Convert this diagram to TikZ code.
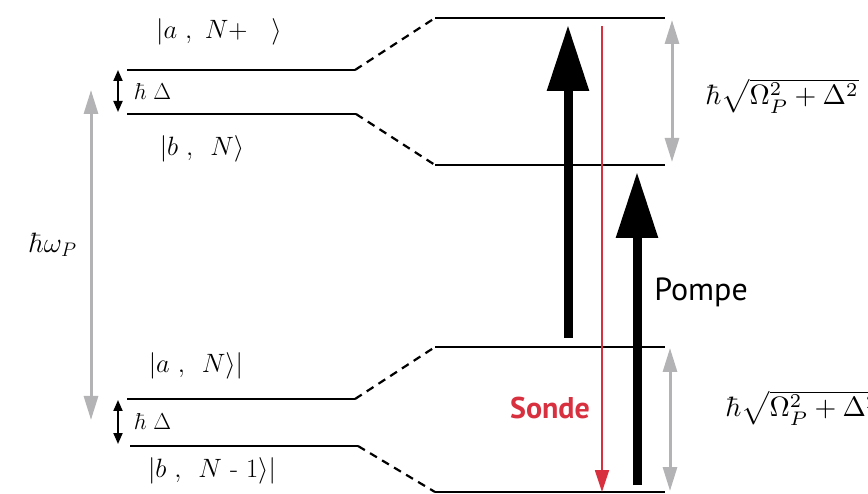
\RequirePackage{fix-cm}
\documentclass[tikz,border=0pt]{standalone}
\usepackage{graphicx}
\usepackage{fontspec}
\newfontfamily\ptsans{PT Sans}
\usetikzlibrary{arrows.meta}
\definecolor{sondered}{HTML}{D8303F}
\definecolor{arrgray}{HTML}{B3B3B5}
\newcommand{\omegalabel}{\scalebox{2.8}{\fontsize{10}{12}\selectfont$\hbar\sqrt{\Omega_P^2+\Delta^2}$}}
\tikzset{
  level/.style={line width=2.4pt, black},
  link/.style={line width=2.2pt, black, dash pattern=on 8pt off 6pt},
  pump/.style={line width=9pt, -{Triangle[width=40pt,length=66pt]}},
  probe/.style={line width=1.8pt, sondered, -{Triangle[width=14pt,length=22pt]}},
  gap/.style={line width=3pt, arrgray, {Triangle[width=14pt,length=24pt]}-{Triangle[width=14pt,length=24pt]}},
  small/.style={line width=2pt, {Triangle[width=9pt,length=11pt]}-{Triangle[width=9pt,length=11pt]}},
  lab/.style={inner sep=0pt, font=\fontsize{26.5}{30}\selectfont},
  slab/.style={inner sep=0pt, font=\fontsize{23}{27}\selectfont},
  olab/.style={inner sep=0pt, font=\fontsize{28}{32}\selectfont},
  omlab/.style={inner sep=0pt},
}
\begin{document}
\begin{tikzpicture}[x=1pt,y=-1pt]
\useasboundingbox (0,0) rectangle (868,494);
% left levels
\coordinate (l1a) at (127,70);  \coordinate (l1b) at (355,70);
\coordinate (l2a) at (127,114); \coordinate (l2b) at (356,114);
\coordinate (l3a) at (127,399); \coordinate (l3b) at (355,399);
\coordinate (l4a) at (130,446); \coordinate (l4b) at (358,446);
% right levels
\coordinate (r1a) at (435,18);  \coordinate (r1b) at (665,18);
\coordinate (r2a) at (435,165); \coordinate (r2b) at (665,165);
\coordinate (r3a) at (435,347); \coordinate (r3b) at (665,347);
\coordinate (r4a) at (435,492); \coordinate (r4b) at (665,492);
\foreach \n in {l1,l2,l3,l4,r1,r2,r3,r4} \draw[level] (\n a) -- (\n b);
\draw[link] (l1b) -- (r1a);
\draw[link] (l2b) -- (r2a);
\draw[link] (l3b) -- (r3a);
\draw[link] (l4b) -- (r4a);
% labels left
\node[lab] (ka) at (219,32) {$|a\ ,\ N+\ \ \ \rangle$};
\node[lab] (kb) at (202,149) {$|b\ ,\ \,N\rangle$};
\node[lab] (kc) at (196,366) {$|a\ ,\ \,N\rangle|$};
\node[lab] (kd) at (212,471) {$|b\ ,\ \,N\ \mbox{-}\ 1\rangle|$};
% small delta arrows
\coordinate (d1t) at (118,70); \coordinate (d1b) at (118,112);
\coordinate (d2t) at (118,400); \coordinate (d2b) at (118,444);
\draw[small] (d1t) -- (d1b);
\draw[small] (d2t) -- (d2b);
\node[slab] (dl1) at (153,92) {$\hbar\;\Delta$};
\node[slab] (dl2) at (153,422) {$\hbar\;\Delta$};
% big gray arrow
\coordinate (wt) at (91,90); \coordinate (wb) at (91,420);
\draw[gap] (wt) -- (wb);
\node[olab] (wl) at (53,245) {$\hbar\omega_P$};
% right gray arrows
\coordinate (g1t) at (672,20); \coordinate (g1b) at (672,162);
\coordinate (g2t) at (670,348); \coordinate (g2b) at (670,491);
\draw[gap] (g1t) -- (g1b);
\draw[gap] (g2t) -- (g2b);
\node[omlab] (om1) at (782,96) {\omegalabel};
\node[omlab] (om2) at (802,408) {\omegalabel};
% pump arrows
\coordinate (p1s) at (568,338); \coordinate (p1e) at (568,25);
\coordinate (p2s) at (637,485); \coordinate (p2e) at (637,172);
\draw[pump] (p1s) -- (p1e);
\draw[pump] (p2s) -- (p2e);
% probe arrow
\coordinate (ss) at (602,26); \coordinate (se) at (602,492);
\draw[probe] (ss) -- (se);
\node[inner sep=0pt, text=sondered, font=\ptsans\bfseries\fontsize{30}{34}\selectfont] (sonde) at (550,408) {Sonde};
\node[inner sep=0pt, font=\ptsans\fontsize{32}{36}\selectfont] (pompe) at (701,292) {Pompe};
\end{tikzpicture}
\end{document}
